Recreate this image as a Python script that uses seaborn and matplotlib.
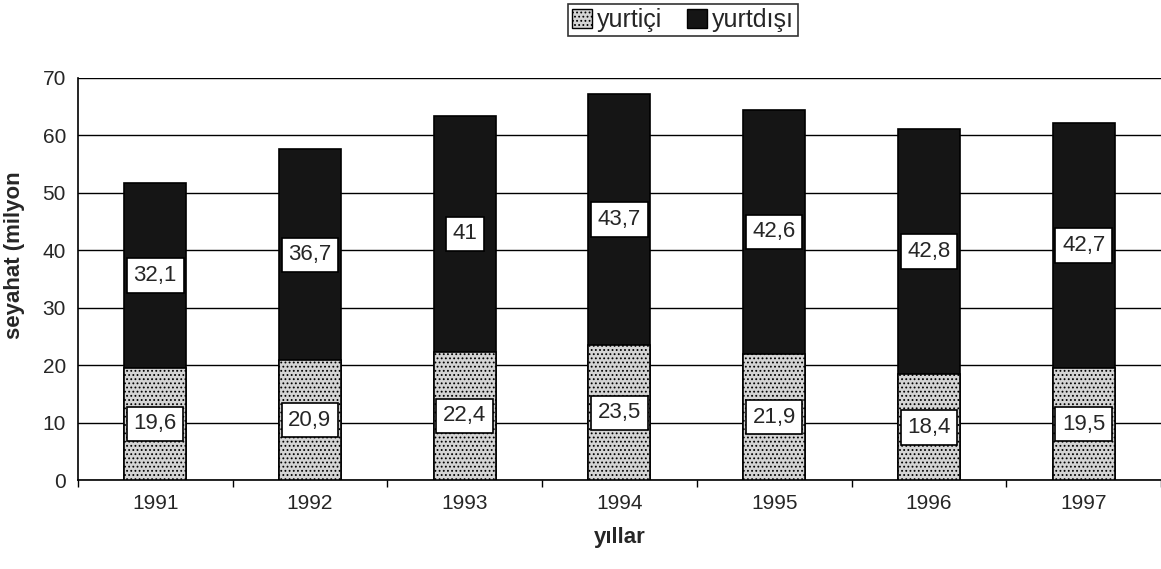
import numpy as np
import pandas as pd
import matplotlib.pyplot as plt
import seaborn as sns
from matplotlib.patches import Patch

years = ['1991', '1992', '1993', '1994', '1995', '1996', '1997']
yurtici = [19.6, 20.9, 22.4, 23.5, 21.9, 18.4, 19.5]
yurtdisi = [32.1, 36.7, 41.0, 43.7, 42.6, 42.8, 42.7]

sns.set_theme(style="white")
plt.rcParams['font.family'] = ['Liberation Sans', 'DejaVu Sans']
plt.rcParams['hatch.color'] = '#555555'
plt.rcParams['hatch.linewidth'] = 0.8

df = pd.DataFrame({'yil': years, 'yurtici': yurtici, 'yurtdisi': yurtdisi})
df['toplam'] = df['yurtici'] + df['yurtdisi']

fig = plt.figure(figsize=(11.61, 5.69), dpi=100)
ax = fig.add_axes([0.067, 0.156, 0.933, 0.707])

# stacked: draw total in dark, then domestic on top of it
sns.barplot(data=df, x='yil', y='toplam', color='#151515', width=0.4,
            edgecolor='black', linewidth=1.2, saturation=1, ax=ax, zorder=2)
sns.barplot(data=df, x='yil', y='yurtici', color='#d4d4d4', width=0.4,
            edgecolor='black', linewidth=1.2, saturation=1, ax=ax, zorder=3)
for p in ax.patches[len(years):]:
    p.set_hatch('....')

box = dict(boxstyle='square,pad=0.3', facecolor='white', edgecolor='black', linewidth=1.2)
for i in range(len(years)):
    ax.text(i, yurtici[i] / 2, f"{yurtici[i]:.1f}".replace('.', ','),
            ha='center', va='center', fontsize=16, bbox=box, zorder=5)
    s = f"{yurtdisi[i]:g}".replace('.', ',')
    ax.text(i, yurtici[i] + yurtdisi[i] / 2, s,
            ha='center', va='center', fontsize=16, bbox=box, zorder=5)

ax.set_xlim(-0.5, 6.5)
ax.set_ylim(0, 70)
ax.set_yticks(np.arange(0, 71, 10))
ax.yaxis.grid(True, color='black', linewidth=1)
ax.set_axisbelow(True)
ax.tick_params(axis='both', labelsize=15, length=5, direction='out', color='black')
ax.tick_params(axis='x', length=0, pad=10)
ax.set_xticks(np.arange(-0.5, 7, 1), minor=True)
ax.tick_params(axis='x', which='minor', bottom=True, length=5, width=1,
               color='black', direction='out')
for side in ['top', 'right']:
    ax.spines[side].set_visible(False)
for side in ['left', 'bottom']:
    ax.spines[side].set_color('black')
    ax.spines[side].set_linewidth(1.2)

ax.set_xlabel('yıllar', fontsize=16, fontweight='bold', labelpad=10)
ax.set_ylabel('seyahat (milyon', fontsize=16, fontweight='bold')
ax.yaxis.set_label_coords(-0.049, 0.56)

handles = [Patch(facecolor='#d4d4d4', edgecolor='black', hatch='....', label='yurtiçi'),
           Patch(facecolor='#151515', edgecolor='black', label='yurtdışı')]
leg = fig.legend(handles=handles, loc='center', bbox_to_anchor=(0.588, 0.965), ncol=2,
                 frameon=True, fontsize=18, handlelength=0.8, handleheight=0.8,
                 handletextpad=0.2, columnspacing=1.0, borderpad=0.15, fancybox=False)
leg.get_frame().set_edgecolor('black')
leg.get_frame().set_linewidth(1.2)

fig.savefig('out.png', dpi=100)
